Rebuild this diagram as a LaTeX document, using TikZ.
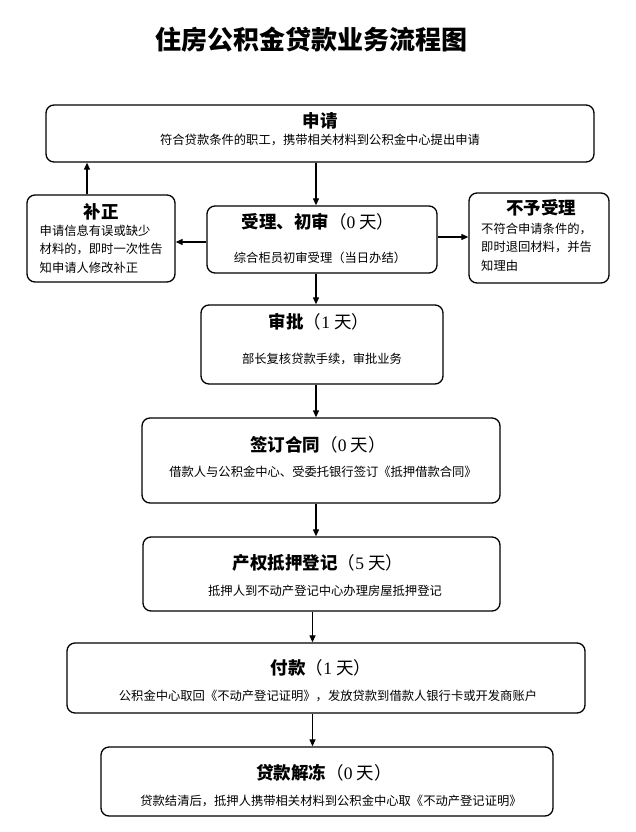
\documentclass[tikz,border=0pt]{standalone}
\usepackage{fontspec}
\usepackage{tikz}
\usetikzlibrary{arrows.meta}
\newfontfamily\cjk{Noto Sans CJK SC}
\newfontfamily\numfont{Liberation Serif}
\newcommand{\tian}[1]{{\mdseries （{\numfont #1} 天）}}

\tikzset{
  flowbox/.style={draw=black, line width=1.3pt, rounded corners=8pt, inner sep=0pt},
  boxtitle/.style={font=\cjk\fontsize{17.5}{20}\selectfont\bfseries, inner sep=0pt},
  boxtext/.style={font=\cjk\fontsize{12.3}{18.5}\selectfont, inner sep=0pt},
  flowarrow/.style={line width=1.2pt, -{Triangle[length=7pt,width=6pt]}}
}

\begin{document}
\begin{tikzpicture}[x=1pt,y=-1pt]
    \useasboundingbox (0,0) rectangle (636,832);
    \node [font=\cjk\fontsize{26}{30}\selectfont\bfseries] (maintitle) at (311,40)
            {住房公积金贷款业务流程图};

    % boxes
    \node [flowbox, minimum width=548, minimum height=57] (shenqing) at (320,133.5) {};
    \node [flowbox, minimum width=148, minimum height=87] (buzheng) at (101,238.5) {};
    \node [flowbox, minimum width=230, minimum height=67] (shouli) at (322,239.5) {};
    \node [flowbox, minimum width=140, minimum height=90] (buyu) at (539,238) {};
    \node [flowbox, minimum width=242, minimum height=79] (shenpi) at (322,344.5) {};
    \node [flowbox, minimum width=358, minimum height=85] (qianding) at (321,460.5) {};
    \node [flowbox, minimum width=357, minimum height=74] (chanquan) at (321.5,574) {};
    \node [flowbox, minimum width=518, minimum height=70] (fukuan) at (326,678) {};
    \node [flowbox, minimum width=452, minimum height=69] (jiedong) at (327,781.5) {};

    % texts
    \node [boxtitle] (shenqing-t) at (320,121) {申请};
    \node [boxtext] (shenqing-b) at (320,140)
            {符合贷款条件的职工，携带相关材料到公积金中心提出申请};
    \node [boxtitle] (buzheng-t) at (101,212) {补正};
    \node [boxtext, anchor=west, align=left] (buzheng-b) at (39.5,249)
            {申请信息有误或缺少\\材料的，即时一次性告\\知申请人修改补正};
    \node [boxtitle] (shouli-t) at (318,222) {受理、初审\tian{0}};
    \node [boxtext] (shouli-b) at (320,258) {综合柜员初审受理（当日办结）};
    \node [boxtitle] (buyu-t) at (541,208) {不予受理};
    \node [boxtext, anchor=west, align=left] (buyu-b) at (481,247)
            {不符合申请条件的，\\即时退回材料，并告\\知理由};
    \node [boxtitle] (shenpi-t) at (319,322) {审批\tian{1}};
    \node [boxtext] (shenpi-b) at (322,359) {部长复核贷款手续，审批业务};
    \node [boxtitle] (qianding-t) at (318,445) {签订合同\tian{0}};
    \node [boxtext] (qianding-b) at (323,472)
            {借款人与公积金中心、受委托银行签订《抵押借款合同》};
    \node [boxtitle] (chanquan-t) at (318,563) {产权抵押登记\tian{5}};
    \node [boxtext] (chanquan-b) at (325,591) {抵押人到不动产登记中心办理房屋抵押登记};
    \node [boxtitle] (fukuan-t) at (321,668) {付款\tian{1}};
    \node [boxtext] (fukuan-b) at (328,696)
            {公积金中心取回《不动产登记证明》，发放贷款到借款人银行卡或开发商账户};
    \node [boxtitle] (jiedong-t) at (324,773) {贷款解冻\tian{0}};
    \node [boxtext] (jiedong-b) at (331,801)
            {贷款结清后，抵押人携带相关材料到公积金中心取《不动产登记证明》};

    % arrows
    \coordinate (axisup) at (316,0);
    \coordinate (axislow) at (312.5,0);
    \coordinate (backx) at (87,0);
    \coordinate (leftrow) at (0,242);
    \coordinate (rightrow) at (0,237);
    \draw [flowarrow] (shenqing.south -| axisup) -- (shouli.north -| axisup);
    \draw [flowarrow] (shouli.west |- leftrow) -- (buzheng.east |- leftrow);
    \draw [flowarrow] (buzheng.north -| backx) -- (shenqing.south -| backx);
    \draw [flowarrow] (shouli.east |- rightrow) -- (buyu.west |- rightrow);
    \draw [flowarrow] (shouli.south -| axisup) -- (shenpi.north -| axisup);
    \draw [flowarrow] (shenpi.south -| axisup) -- (qianding.north -| axisup);
    \draw [flowarrow] (qianding.south -| axisup) -- (chanquan.north -| axisup);
    \draw [flowarrow] (chanquan.south -| axislow) -- (fukuan.north -| axislow);
    \draw [flowarrow] (fukuan.south -| axislow) -- (jiedong.north -| axislow);
\end{tikzpicture}
\end{document}
